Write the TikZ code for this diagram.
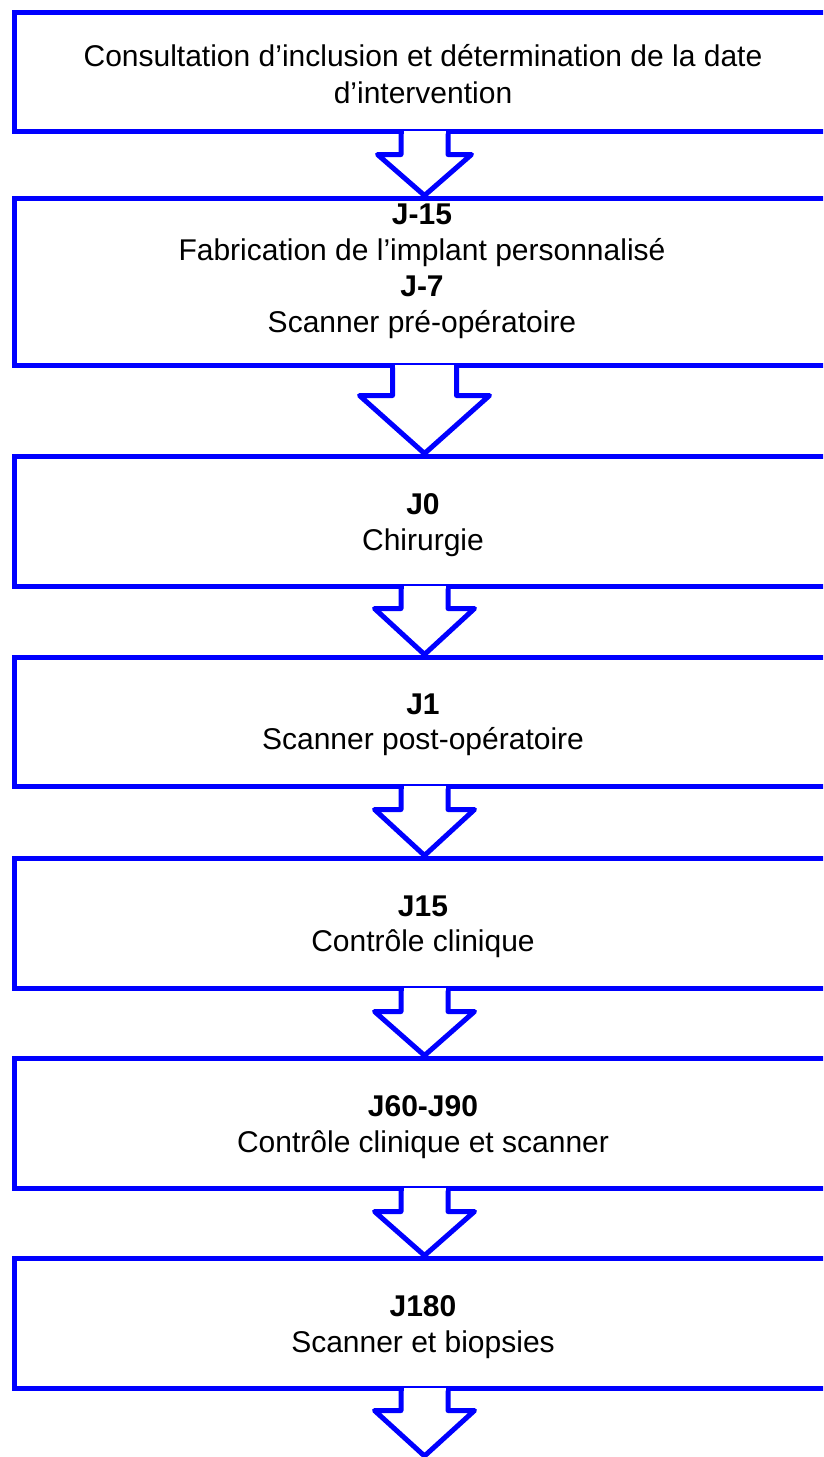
\documentclass[tikz,border=0pt]{standalone}
\usepackage{fontspec}
\setmainfont{Liberation Sans}
\usetikzlibrary{calc}
\definecolor{bblue}{RGB}{0,0,255}
\newcommand\blockarrow[5]{% #1 from node, #2 tip, #3 stem half width, #4 head half width, #5 stem length
  \fill[white] ($(#1.south)+(-#3+2.5,-3)$) rectangle ($(#1.south)+(#3-2.5,3)$);
  \draw[arrowline] ($(#1.south)+(-#3,0)$) -- ($(#1.south)+(-#3,#5)$) -- ($(#1.south)+(-#4,#5)$) -- (#2)
    -- ($(#1.south)+(#4,#5)$) -- ($(#1.south)+(#3,#5)$) -- ($(#1.south)+(#3,0)$);
}
\begin{document}
\begin{tikzpicture}[x=1pt,y=-1pt,
  box/.style={draw=bblue, line width=5pt, minimum width=821pt, inner sep=0pt, rectangle},
  txt/.style={align=center, font=\fontsize{30}{35.5}\selectfont, text=black, inner sep=0pt},
  arrowline/.style={draw=bblue, line width=5pt, line join=round}]
\fill[white] (0,0) rectangle (823,1457);
\useasboundingbox (0,0) rectangle (823,1457);
\clip (0,0) rectangle (823,1457);
% boxes
\node[box, minimum height=119pt] (b1) at (424.5,71.5) {};
\node[box, minimum height=167pt] (b2) at (424.5,281.5) {};
\node[box, minimum height=130pt] (b3) at (424.5,521) {};
\node[box, minimum height=129pt] (b4) at (424.5,721.5) {};
\node[box, minimum height=130pt] (b5) at (424.5,923) {};
\node[box, minimum height=130pt] (b6) at (424.5,1123) {};
\node[box, minimum height=130pt] (b7) at (424.5,1323) {};
\coordinate (end) at (424.5,1456);
% texts
\node[txt, font=\fontsize{30}{37}\selectfont] (t1) at (423,74) {Consultation d’inclusion et détermination de la date\\d’intervention};
\node[txt, font=\fontsize{30}{36}\selectfont] (t2) at (422,271) {\textbf{J-15}\\Fabrication de l’implant personnalisé\\\textbf{J-7}\\Scanner pré-opératoire};
\node[txt] (t3) at (423,525) {\textbf{J0}\\Chirurgie};
\node[txt] (t4) at (423,725) {\textbf{J1}\\Scanner post-opératoire};
\node[txt] (t5) at (423,927) {\textbf{J15}\\Contrôle clinique};
\node[txt] (t6) at (423,1127) {\textbf{J60-J90}\\Contrôle clinique et scanner};
\node[txt] (t7) at (423,1327) {\textbf{J180}\\Scanner et biopsies};
% arrows
\blockarrow{b1}{b2.north}{23.5}{47}{21}
\blockarrow{b2}{b3.north}{32}{65}{28}
\blockarrow{b3}{b4.north}{23.5}{50}{20}
\blockarrow{b4}{b5.north}{23.5}{50}{21}
\blockarrow{b5}{b6.north}{23.5}{50}{21}
\blockarrow{b6}{b7.north}{23.5}{50}{21}
\blockarrow{b7}{end}{23.5}{50}{20}
\end{tikzpicture}
\end{document}
